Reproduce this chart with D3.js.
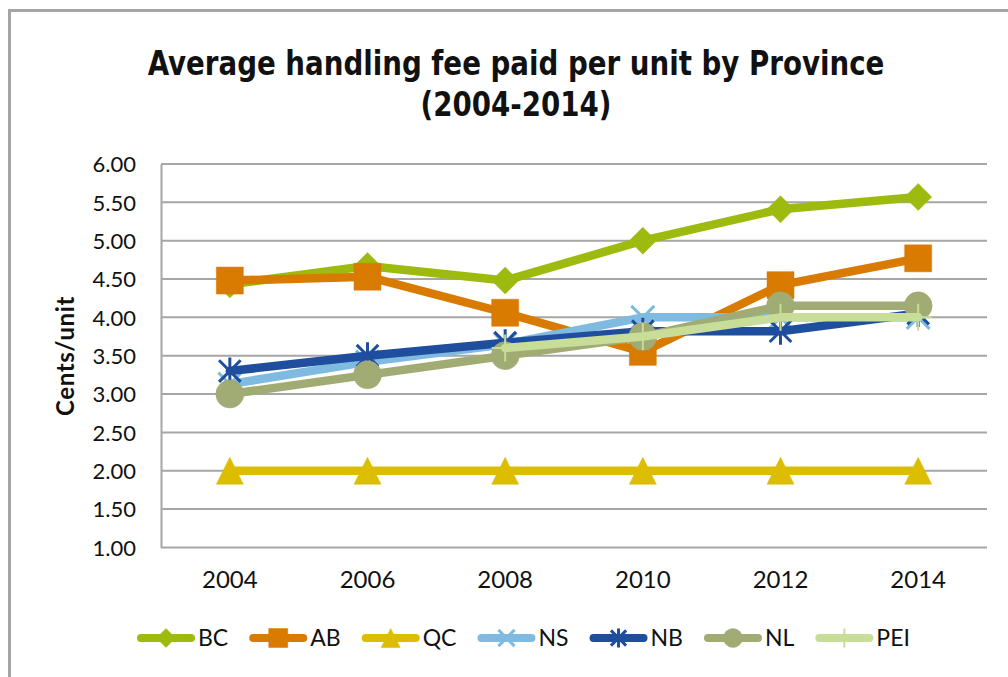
<!DOCTYPE html>
<html>
<head>
<meta charset="utf-8">
<script src="https://cdn.jsdelivr.net/npm/d3@7"></script>
<style>
  html, body { margin: 0; padding: 0; background: #fff; }
  svg { display: block; }
</style>
</head>
<body>
<svg id="chart" width="1008" height="677"></svg>
<script>
// Handling fee per unit (cents), by province, every second year
const years = ["2004", "2006", "2008", "2010", "2012", "2014"];
const seriesNames = ["BC", "AB", "QC", "NS", "NB", "NL", "PEI"];
const bcValues  = [4.43, 4.67, 4.48, 5.00, 5.41, 5.57];
const abValues  = [4.48, 4.53, 4.06, 3.55, 4.42, 4.77];
const qcValues  = [2.00, 2.00, 2.00, 2.00, 2.00, 2.00];
const nsValues  = [3.13, 3.42, 3.65, 4.00, 4.00, 4.00];
const nbValues  = [3.30, 3.50, 3.67, 3.82, 3.82, 4.05];
const nlValues  = [3.00, 3.25, 3.50, 3.75, 4.15, 4.15];
const peiValues = [null, null, 3.60, 3.75, 4.00, 4.00];
const yTicks = [1.00, 1.50, 2.00, 2.50, 3.00, 3.50, 4.00, 4.50, 5.00, 5.50, 6.00];

const titleLines = ["Average handling fee paid per unit by Province", "(2004-2014)"];
const yAxisTitle = "Cents/unit";

// Series styling
const styles = {
  BC:  { color: "#9cbb0e", marker: "diamond" },
  AB:  { color: "#d87b00", marker: "square" },
  QC:  { color: "#dcbd00", marker: "triangle" },
  NS:  { color: "#7fbae0", marker: "x" },
  NB:  { color: "#1f4e9e", marker: "asterisk" },
  NL:  { color: "#a1ab74", marker: "circle" },
  PEI: { color: "#c8dd98", marker: "plus" }
};
const valuesByName = { BC: bcValues, AB: abValues, QC: qcValues, NS: nsValues, NB: nbValues, NL: nlValues, PEI: peiValues };
const series = seriesNames.map(name => ({
  name,
  values: years.map((y, i) => ({ year: y, value: valuesByName[name][i] })),
  ...styles[name]
}));

const svg = d3.select("#chart");
const W = 1008, H = 677;
const plot = { left: 161, right: 987, top: 164, bottom: 547.4 };

const TEXT_FONT = "Lato, 'Open Sans', 'DejaVu Sans', sans-serif";

// Outer chart frame
svg.append("rect")
  .attr("x", 9.5).attr("y", 10.5)
  .attr("width", W + 20).attr("height", H + 20)
  .attr("fill", "#fff")
  .attr("stroke", "#a5a5a5")
  .attr("stroke-width", 3);

// Scales
const x = d3.scaleBand().domain(years).range([plot.left, plot.right]).padding(0);
const cx = d => x(d) + x.bandwidth() / 2;
const y = d3.scaleLinear().domain([1, 6]).range([plot.bottom, plot.top]);

// Gridlines
svg.append("g")
  .selectAll("line")
  .data(yTicks.filter(t => t > 1))
  .join("line")
  .attr("x1", plot.left).attr("x2", plot.right)
  .attr("y1", d => y(d)).attr("y2", d => y(d))
  .attr("stroke", "#a6a6a6")
  .attr("stroke-width", 2);

// Y axis
const yAxis = svg.append("g")
  .attr("transform", `translate(${plot.left},0)`)
  .call(d3.axisLeft(y).tickValues(yTicks).tickFormat(d3.format(".2f")).tickSize(0).tickPadding(25));
yAxis.select(".domain").attr("stroke", "#a6a6a6").attr("stroke-width", 2);
yAxis.selectAll("text")
  .attr("font-family", TEXT_FONT)
  .attr("font-size", 22)
  .attr("fill", "#111")
  .attr("dy", "0.36em");

// X axis
const xAxis = svg.append("g")
  .attr("transform", `translate(0,${plot.bottom})`)
  .call(d3.axisBottom(x).tickSize(0).tickPadding(24));
xAxis.select(".domain").attr("stroke", "#a6a6a6").attr("stroke-width", 2)
  .attr("d", `M${plot.left},0H${plot.right}`);
xAxis.selectAll("text")
  .attr("font-family", TEXT_FONT)
  .attr("font-size", 24)
  .attr("fill", "#111")
  .attr("dy", "0.71em");

// Y axis title
svg.append("text")
  .attr("transform", `translate(74,356) rotate(-90)`)
  .attr("text-anchor", "middle")
  .attr("font-family", TEXT_FONT)
  .attr("font-weight", "bold")
  .attr("font-size", 24)
  .attr("letter-spacing", 0.6)
  .attr("fill", "#111")
  .text(yAxisTitle);

// Chart title: condensed bold, stretched a little vertically
const titleBaselines = [75, 116];
const titleTexts = svg.append("g")
  .selectAll("text")
  .data(titleLines)
  .join("text")
  .attr("transform", (d, i) => `translate(516,${titleBaselines[i]}) scale(1,1.12)`)
  .attr("text-anchor", "middle")
  .attr("font-family", "'DejaVu Sans Condensed', sans-serif")
  .attr("font-weight", "bold")
  .attr("fill", "#111")
  .attr("font-size", 30)
  .text(d => d);
// size the title so its first line spans the header width
const firstLen = titleTexts.node().getComputedTextLength();
titleTexts.attr("font-size", 30 * 737 / firstLen);

// Marker shapes
function markerPath(kind, s) {
  switch (kind) {
    case "diamond":  return `M0,${-s}L${s},0L0,${s}L${-s},0Z`;
    case "square":   return `M${-s},${-s}H${s}V${s}H${-s}Z`;
    case "triangle": return `M0,${-s}L${s},${s}H${-s}Z`;
    case "circle":   return d3.symbol(d3.symbolCircle, Math.PI * s * s)();
    case "x":        { const a = s * 0.85; return `M${-a},${-a}L${a},${a}M${-a},${a}L${a},${-a}`; }
    case "asterisk": { const a = s * 0.8; return `M${-a},${-a}L${a},${a}M${-a},${a}L${a},${-a}M0,${-s}V${s}`; }
    case "plus":     return `M0,${-s}V${s}M${-s},0H${s}`;
  }
}
const stroked = k => k === "x" || k === "asterisk" || k === "plus";
function drawMarker(g, kind, color, s) {
  g.append("path")
    .attr("d", markerPath(kind, s))
    .attr("fill", stroked(kind) ? "none" : color)
    .attr("stroke", color)
    .attr("stroke-width", stroked(kind) ? (kind === "plus" ? 2 : 3) : 0.5);
}

// Series lines and markers
const line = d3.line()
  .defined(d => d.value != null)
  .x(d => cx(d.year))
  .y(d => y(d.value));

const seriesG = svg.append("g");
series.forEach(s => {
  const g = seriesG.append("g");
  g.append("path")
    .datum(s.values)
    .attr("fill", "none")
    .attr("stroke", s.color)
    .attr("stroke-width", 8.5)
    .attr("stroke-linejoin", "round")
    .attr("stroke-linecap", "round")
    .attr("d", line);
  s.values.filter(d => d.value != null).forEach(d => {
    const m = g.append("g").attr("transform", `translate(${cx(d.year)},${y(d.value)})`);
    drawMarker(m, s.marker, s.color, s.marker === "circle" ? 14 : 13.5);
  });
});

// Legend
const legend = svg.append("g").attr("transform", "translate(0,638)");
let lx = 137;
series.forEach(s => {
  const item = legend.append("g").attr("transform", `translate(${lx},0)`);
  item.append("line")
    .attr("x1", 4).attr("x2", 54)
    .attr("stroke", s.color)
    .attr("stroke-width", 8)
    .attr("stroke-linecap", "round");
  const m = item.append("g").attr("transform", "translate(29,0)");
  drawMarker(m, s.marker, s.color, 9.5);
  const t = item.append("text")
    .attr("x", 61)
    .attr("dy", "0.36em")
    .attr("font-family", TEXT_FONT)
    .attr("font-size", 23)
    .attr("fill", "#111")
    .text(s.name);
  lx += 61 + t.node().getComputedTextLength() + 21;
});
</script>
</body>
</html>
